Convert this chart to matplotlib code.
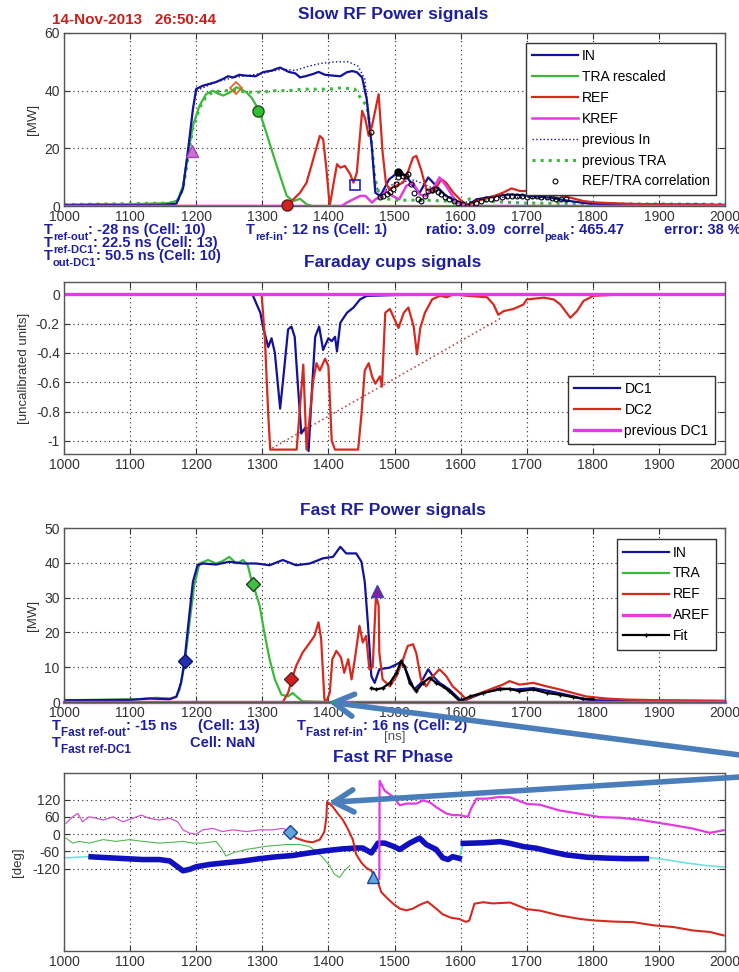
import matplotlib
matplotlib.use("Agg")
import matplotlib.pyplot as plt
import numpy as np

plt.rcParams['font.family'] = ['Liberation Sans', 'DejaVu Sans']
plt.rcParams['axes.unicode_minus'] = False

# ---------------- data: Slow RF Power signals ----------------
slow_in_t = [1000, 1050, 1100, 1150, 1170, 1180, 1188, 1195, 1200, 1210, 1230, 1240, 1248, 1256, 1265, 1276,
             1290, 1301, 1315, 1320, 1327, 1340, 1350, 1357, 1365, 1377, 1385, 1395, 1408, 1418, 1428, 1436,
             1443, 1451, 1458, 1466, 1471, 1478, 1482, 1492, 1505, 1518, 1528, 1538, 1551, 1563, 1578, 1594,
             1609, 1624, 1654, 1675, 1705, 1735, 1766, 1796, 1850, 1900, 1950, 2000]
slow_in_v = [0.3, 0.4, 0.3, 0.4, 0.8, 6, 20, 33.6, 40.6, 41.7, 43, 44, 45, 44.6, 45.5, 45.2,
             45, 46.4, 47, 47.5, 48, 46.5, 46, 44.6, 45, 45.8, 46.5, 45.5, 45.2, 45, 46.4, 46.8,
             46.4, 44.6, 37, 19.7, 4.6, 3.5, 5, 9.3, 11.6, 10.4, 7, 4.6, 9.9, 7, 3.5, 1.7,
             0, 2.3, 3.5, 4, 3.5, 2.9, 1.7, 0.8, 0.6, 0.5, 0.5, 0.4]

slow_prev_in_t = [1000, 1170, 1180, 1188, 1195, 1200, 1230, 1256, 1300, 1330, 1350, 1370, 1390, 1410, 1430,
                  1445, 1455, 1463, 1470, 1478, 1500, 1530, 1560, 1600, 1650, 1700, 1800, 2000]
slow_prev_in_v = [0.3, 0.8, 6, 20, 33, 40, 43, 44.5, 46, 47.5, 47, 48.5, 49.5, 50, 50,
                  48.5, 44, 28, 8, 4, 8, 9, 6, 1, 3, 3, 0.8, 0.4]

slow_tra_t = [1000, 1100, 1160, 1172, 1180, 1188, 1195, 1205, 1215, 1225, 1233, 1241, 1251, 1261, 1268,
              1276, 1284, 1291, 1296, 1306, 1317, 1327, 1337, 1347, 1357, 1367, 1375, 1400, 1500, 2000]
slow_tra_v = [0.5, 0.6, 1, 2, 7, 18.6, 27.8, 34.8, 38.8, 40, 39, 38.3, 39.4, 41.2, 40.5,
              39.4, 37.5, 34.8, 32.5, 25.5, 17.4, 10.4, 3.5, 1.7, 2.5, 0.6, 0, 0, 0, 0]

slow_prev_tra_t = [1000, 1160, 1172, 1180, 1188, 1195, 1205, 1215, 1225, 1240, 1260, 1280, 1300, 1320, 1340,
                   1360, 1380, 1400, 1420, 1440, 1450, 1458, 1463, 1470, 1478, 1500, 1550, 1600, 1615, 1630,
                   1650, 1700, 1800, 2000]
slow_prev_tra_v = [0.5, 1, 2, 6, 17, 27, 34, 38, 39.5, 40, 40, 39.5, 39.5, 40, 40,
                   40.5, 40.5, 40.5, 41, 40.5, 37, 34.8, 28, 10, 3, 2, 2, 1.5, 2.5, 2,
                   1.5, 1, 0.8, 0.6]

slow_ref_t = [1000, 1330, 1337, 1347, 1357, 1367, 1377, 1387, 1392, 1397, 1402, 1408, 1413, 1418, 1425,
              1433, 1438, 1443, 1451, 1456, 1461, 1466, 1476, 1482, 1487, 1492, 1502, 1513, 1520, 1528,
              1533, 1540, 1548, 1558, 1571, 1578, 1589, 1599, 1609, 1624, 1644, 1664, 1677, 1690, 1705,
              1725, 1745, 1766, 1786, 1806, 1850, 1900, 2000]
slow_ref_v = [0, 0, 0.2, 2.3, 4.6, 8.1, 16.2, 24.3, 23.2, 12.8, 0, 8.1, 14.5, 13.3, 13.9,
              11, 8.1, 11.6, 33, 30, 24.3, 27.8, 38.8, 18.6, 8.1, 5.8, 7, 8.1, 11.6, 16.8,
              17.4, 12.8, 5.8, 4.6, 9.3, 8.1, 4.6, 2.3, 0, 1.7, 2.9, 4.6, 6.1, 5.2, 5.2,
              4, 4, 2.9, 1.7, 1.2, 0.8, 0.5, 0.3]

slow_kref_t = [1000, 1420, 1428, 1448, 1456, 1466, 1472, 1478, 1487, 1497, 1507, 1518, 1528, 1538, 1548,
               1561, 1568, 1578, 1594, 1609, 2000]
slow_kref_v = [0, 0, 1.2, 3.5, 3.5, 1.2, 2.5, 2.9, 5.2, 3.5, 2.3, 7, 8.1, 4, 3.5,
               7, 9.9, 7, 1.2, 0, 0]

corr_t = [1465, 1478, 1483, 1488, 1493, 1498, 1502, 1505, 1509, 1513, 1517, 1520, 1525, 1530, 1535, 1540,
          1546, 1551, 1556, 1561, 1566, 1571, 1577, 1583, 1590, 1596, 1603, 1609, 1616, 1624, 1631, 1639,
          1646, 1654, 1662, 1670, 1678, 1685, 1693, 1700, 1708, 1715, 1722, 1730, 1738, 1745, 1752, 1760]
corr_v = [25.5, 3, 3.5, 4, 5, 6, 7.5, 10, 11.5, 10.4, 10.5, 11, 7.5, 4.5, 2.3, 1.7,
          3.5, 5.2, 5.5, 5.8, 4.8, 4, 3, 2.3, 1.8, 1.2, 0.6, 0, 0.8, 1.2, 1.8, 2.3,
          2.6, 2.9, 3.2, 3.5, 3.6, 3.5, 3.3, 3.2, 3.3, 3.4, 3.1, 3, 2.9, 2.6, 2.5, 2.3]
corr_peak = (1506, 11.9)

slow_marks = {'tri': (1193, 19.1), 'dia': (1260, 40.8), 'circ_g': (1294, 33), 'circ_r': (1337, 0.3), 'sq': (1440, 7.2)}

# ---------------- data: Faraday cups ----------------
dc1_t = [1000, 1285, 1297, 1301, 1309, 1314, 1319, 1327, 1332, 1339, 1344, 1349, 1354, 1359, 1365, 1370,
         1375, 1380, 1386, 1392, 1400, 1405, 1410, 1413, 1418, 1428, 1438, 1448, 1458, 1500, 1600, 2000]
dc1_v = [0, 0, -0.126, -0.22, -0.36, -0.30, -0.40, -0.78, -0.56, -0.24, -0.22, -0.29, -0.63, -0.95, -0.91, -1.07,
         -0.66, -0.29, -0.22, -0.38, -0.30, -0.32, -0.29, -0.39, -0.195, -0.126, -0.09, -0.034, -0.011, -0.005, 0, 0]

dc2_t = [1000, 1299, 1304, 1309, 1312, 1352, 1357, 1362, 1367, 1372, 1377, 1382, 1387, 1395, 1400, 1405,
         1410, 1445, 1450, 1455, 1461, 1466, 1471, 1478, 1481, 1486, 1493, 1498, 1506, 1514, 1521, 1529,
         1534, 1539, 1546, 1557, 1569, 1579, 1589, 1610, 1640, 1650, 1657, 1665, 1680, 1695, 1700, 1726,
         1741, 1751, 1766, 1776, 1786, 1801, 1850, 2000]
dc2_v = [0, 0, -0.31, -0.82, -1.06, -1.06, -0.77, -0.48, -1.06, -0.82, -0.59, -0.47, -0.52, -0.44, -0.49, -1.0,
         -1.06, -1.06, -0.82, -0.52, -0.47, -0.56, -0.61, -0.56, -0.63, -0.126, -0.10, -0.15, -0.23, -0.126, -0.09, -0.22,
         -0.41, -0.23, -0.126, -0.034, -0.01, -0.02, 0, -0.01, -0.02, -0.07, -0.14, -0.115, -0.10, -0.07, -0.035, -0.023,
         -0.035, -0.07, -0.16, -0.115, -0.045, -0.01, 0, 0]

dc2_prev_t = [1315, 1662]
dc2_prev_v = [-1.05, -0.16]

prev_dc1_t = [1000, 2000]
prev_dc1_v = [0, 0]

# ---------------- data: Fast RF Power signals ----------------
fast_in_t = [1000, 1100, 1130, 1160, 1170, 1177, 1182, 1190, 1195, 1202, 1210, 1230, 1250, 1271, 1291, 1311,
             1331, 1351, 1372, 1392, 1407, 1418, 1427, 1442, 1450, 1455, 1460, 1465, 1470, 1477, 1493, 1508,
             1515, 1523, 1530, 1540, 1551, 1558, 1568, 1583, 1599, 1609, 1634, 1659, 1684, 1710, 1735, 1760,
             1780, 1795, 1850, 2000]
fast_in_v = [0.5, 0.6, 1, 0.8, 1.5, 5.5, 11.3, 25.8, 34.5, 39.3, 39.8, 39.5, 40.3, 39.8, 39.8, 39.3,
             40.8, 39.3, 39.8, 41.3, 41.7, 44.6, 42.7, 42.7, 40.3, 34.5, 21.9, 7.4, 5.5, 9.4, 9.9, 11.3,
             10.3, 6.5, 3.6, 5.5, 9.4, 7.4, 5.5, 3.6, 0.7, 0.7, 2.6, 3.9, 3.6, 4, 3.1, 2.1,
             1.2, 0.5, 0.4, 0.3]

fast_tra_t = [1000, 1110, 1140, 1160, 1170, 1175, 1182, 1190, 1197, 1205, 1218, 1230, 1240, 1250, 1261,
              1271, 1278, 1283, 1288, 1296, 1303, 1311, 1319, 1329, 1339, 1346, 1354, 1361, 1400, 2000]
fast_tra_v = [0.5, 0.8, 1.2, 1, 1.5, 3.6, 10.3, 22.9, 33.5, 39.8, 40.8, 39.8, 40.5, 41.7, 39.8,
              40.8, 39.3, 35.5, 32.6, 27.7, 20, 12.3, 6.5, 2.1, 1.6, 2.6, 1.2, 0.2, 0, 0]

fast_ref_t = [1000, 1331, 1339, 1344, 1351, 1361, 1372, 1379, 1385, 1389, 1394, 1397, 1402, 1406, 1412,
              1419, 1424, 1430, 1435, 1440, 1447, 1452, 1457, 1462, 1467, 1472, 1476, 1477, 1482, 1493,
              1503, 1513, 1520, 1528, 1533, 1540, 1548, 1558, 1568, 1578, 1588, 1599, 1609, 1624, 1644,
              1664, 1674, 1689, 1710, 1730, 1750, 1770, 1790, 1820, 1850, 1900, 2000]
fast_ref_v = [0, 0, 2.6, 6, 10.3, 14.2, 17.1, 19, 22.9, 18.1, 0.7, 0.2, 2.6, 12.3, 14.7,
              12.8, 8.4, 12.3, 6.5, 12.3, 21.9, 17.1, 19, 9.4, 10, 30.6, 27.7, 14.2, 6.5, 4.5,
              7.4, 12.3, 16.1, 16.6, 14, 6.5, 4.5, 7.4, 9.4, 7.5, 4.5, 2.6, 0.7, 2.1, 3.6,
              5, 6, 5, 5.5, 4.5, 3.6, 2.6, 1.6, 1.0, 0.7, 0.5, 0.3]

fit_t = [1465, 1472, 1482, 1493, 1503, 1510, 1515, 1523, 1533, 1543, 1553, 1563, 1573, 1583, 1599, 1614,
         1634, 1659, 1674, 1689, 1710, 1730, 1750, 1770, 1785, 1800]
fit_v = [4, 3.6, 4, 5.5, 8.4, 11.8, 10.3, 5.5, 3.1, 5.5, 7, 5.5, 4.5, 3.1, 0.2, 1.6,
         2.6, 3.6, 3.8, 3.1, 3.6, 2.6, 2.1, 1.4, 0.9, 0.8]

aref_t = [1000, 2000]
aref_v = [0, 0]

fast_marks = {'in': (1183, 11.8), 'tra': (1286, 34), 'ref': (1344, 6.5), 'tri': (1474, 32)}

# ---------------- data: Fast RF Phase ----------------
ph_mag1_t = [1003, 1013, 1021, 1028, 1038, 1049, 1059, 1074, 1089, 1104, 1117, 1129, 1144, 1160, 1172,
             1180, 1190, 1200, 1210, 1225, 1240, 1255, 1276, 1296, 1316, 1331, 1341]
ph_mag1_v = [37.6, 60, 72, 43, 60, 55, 49, 60, 43, 55, 66, 55, 49, 55, 43,
             15, 3.4, 0, 15, 20, 9, 15, 9, 15, 15, 20, 9]

ph_mag2_t = [1477, 1477.5, 1485, 1498, 1508, 1518, 1533, 1543, 1553, 1563, 1578, 1588, 1598, 1611, 1616,
             1624, 1639, 1659, 1675, 1700, 1720, 1750, 1781, 1811, 1841, 1871, 1892, 1922, 1952, 1977, 1998]
ph_mag2_v = [-156, 185, 151, 129, 100, 106, 106, 117, 111, 94, 72, 66, 66, 60, 89,
             123, 123, 129, 127.5, 105, 102, 82, 70.6, 59, 57, 50, 42, 31, 19, 4.6, 13.7]

ph_red_t = [1341, 1351, 1366, 1376, 1387, 1394, 1397, 1398, 1402, 1407, 1414, 1422, 1429, 1437, 1442,
            1450, 1457, 1465, 1470, 1475, 1480, 1490, 1498, 1508, 1518, 1528, 1538, 1550, 1563, 1573,
            1586, 1598, 1608, 1613, 1621, 1634, 1649, 1675, 1700, 1720, 1750, 1781, 1801, 1831, 1861,
            1892, 1922, 1952, 1977, 1998]
ph_red_v = [9, -13.7, -25, -28, -19, 9, 60, 111.5, 106, 94, 72, 49, 20, -19, -70,
            -99, -116, -127, -145, -167, -201, -224, -241, -258, -264, -258, -245, -234, -258, -278,
            -290, -294, -304, -300, -241, -236, -240, -237, -260, -265, -282, -294, -299, -303, -305,
            -316, -322, -334, -339, -351]

ph_green_t = [1003, 1013, 1023, 1038, 1059, 1079, 1099, 1119, 1144, 1165, 1180, 1195, 1210, 1230, 1238,
              1245, 1255, 1276, 1306, 1336, 1356, 1371, 1381, 1392, 1402, 1409, 1417, 1424, 1432]
ph_green_v = [-13.7, -31, -25, -31, -19, -25, -19, -25, -31, -28, -25, -31, -31, -25, -48,
              -76, -65, -53, -42, -36, -36, -42, -59, -82, -110, -139, -150, -127, -110]

ph_blue1_t = [1041, 1069, 1094, 1119, 1144, 1160, 1170, 1180, 1190, 1200, 1220, 1245, 1271, 1296, 1321,
              1346, 1371, 1397, 1422, 1442, 1452, 1465, 1475, 1485, 1498, 1508, 1523, 1538, 1548, 1563,
              1573, 1581, 1588, 1598]
ph_blue1_v = [-78.5, -82, -85, -88, -88, -93, -110, -127, -122, -113, -105, -99, -93, -85, -78.5,
              -74, -65, -57, -51, -48, -48, -65, -31, -31, -42, -53, -31, -13.7, -36, -53,
              -82, -88, -78, -84]
ph_blue2_t = [1604, 1634, 1660, 1675, 1695, 1715, 1735, 1760, 1791, 1821, 1851, 1881]
ph_blue2_v = [-32, -30, -26, -32, -43, -49, -60, -72, -80, -83, -85, -85]

ph_cyan_parts = [([1003, 1038], [-82, -78]),
                 ([1598, 1604], [-84, -32]),
                 ([1881, 1912, 1942, 1972, 1998], [-80, -89, -100, -109, -114])]

ph_marks = {'dia': (1342, 7), 'tri': (1467, -150)}

# ---------------- styling ----------------
C_IN = '#12129a'
C_TRA = '#3cb83c'
C_REF = '#d42a20'
C_MAG = '#e03ce0'
C_TXT = '#1e1ea0'
C_ARROW = '#4a7ebb'
FS = 10.5      # bold info text
SUBFS = 8.5

W, H = 739, 972
fig = plt.figure(figsize=(W / 100, H / 100), dpi=100)


def fx(px):
    return px / W


def fy(py):
    return 1 - py / H


def make_ax(top, bottom):
    ax = fig.add_axes([fx(64), fy(bottom), fx(725) - fx(64), fy(top) - fy(bottom)])
    ax.set_xlim(1000, 2000)
    ax.set_xticks(np.arange(1000, 2001, 100))
    ax.grid(True, linestyle=(0, (1, 3)), color='#222222', linewidth=0.8)
    ax.tick_params(direction='in', top=True, right=True, length=4, labelsize=10,
                   colors='#333333', pad=3)
    for s in ax.spines.values():
        s.set_color('#555555')
        s.set_linewidth(1.0)
    return ax


def tlabel(ax, x, y, sub, rest, subfs=SUBFS):
    t = fig.text(fx(x), fy(y), "T", fontsize=FS, fontweight='bold', color=C_TXT, va='baseline')
    s = ax.annotate(sub, xy=(1, 0), xycoords=t, fontsize=subfs, fontweight='bold', color=C_TXT,
                    va='center', ha='left')
    ax.annotate(rest, xy=(1, 0), xycoords=(s, t), fontsize=FS, fontweight='bold', color=C_TXT,
                va='bottom', ha='left')


def title(txt, y):
    fig.text(fx(393), fy(y), txt, fontsize=12.5, fontweight='bold', color=C_TXT, ha='center', va='center')


def legend(ax, handles, labels, **kw):
    ax.legend(handles, labels, fontsize=10, handlelength=3.3, labelspacing=0.5, borderpad=0.45,
              fancybox=False, edgecolor='#333333', framealpha=1, handletextpad=0.3, **kw)


# ---------- panel 1 ----------
ax1 = make_ax(33, 206)
ax1.set_ylim(0, 60)
ax1.set_yticks([0, 20, 40, 60])
ax1.plot(slow_prev_in_t, slow_prev_in_v, ':', color=C_IN, lw=1.0, label='previous In')
ax1.plot(slow_prev_tra_t, slow_prev_tra_v, ':', color=C_TRA, lw=2.2, label='previous TRA')
ax1.plot(slow_tra_t, slow_tra_v, '-', color=C_TRA, lw=1.6, label='TRA rescaled')
ax1.plot(slow_in_t, slow_in_v, '-', color=C_IN, lw=1.6, label='IN')
ax1.plot(slow_ref_t, slow_ref_v, '-', color=C_REF, lw=1.6, label='REF')
ax1.plot(slow_kref_t, slow_kref_v, '-', color=C_MAG, lw=1.8, label='KREF')
ax1.plot(corr_t, corr_v, 'o', ms=3.5, mfc='none', mec='black', mew=0.8, label='REF/TRA correlation')
ax1.plot(*corr_peak, 'o', ms=5, color='black')
ax1.plot(*slow_marks['tri'], '^', ms=8, mfc='#d070d0', mec='#a040c0')
ax1.plot(*slow_marks['dia'], 'D', ms=6, mfc='none', mec='#e06020', mew=1.2)
ax1.plot(*slow_marks['circ_g'], 'o', ms=8, mfc='#30c030', mec='#205020')
ax1.plot(*slow_marks['circ_r'], 'o', ms=8, mfc='#d02020', mec='#602020', clip_on=False, zorder=5)
ax1.plot(*slow_marks['sq'], 's', ms=7, mfc='none', mec='#2020c0', mew=1.2)
ax1.set_ylabel('[MW]', fontsize=9.5, color='#333333', labelpad=4)
h, l = ax1.get_legend_handles_labels()
order = ['IN', 'TRA rescaled', 'REF', 'KREF', 'previous In', 'previous TRA', 'REF/TRA correlation']
legend(ax1, [h[l.index(k)] for k in order], order, loc='upper right', bbox_to_anchor=(0.997, 0.985))

fig.text(fx(52), fy(20), '14-Nov-2013   26:50:44', fontsize=11, fontweight='bold', color='#c8201c',
         va='center')
title('Slow RF Power signals', 15)

tlabel(ax1, 44, 234, 'ref-out', ': -28 ns (Cell: 10)', subfs=8)
tlabel(ax1, 44, 247, 'ref-DC1', ': 22.5 ns (Cell: 13)', subfs=8)
tlabel(ax1, 44, 260, 'out-DC1', ': 50.5 ns (Cell: 10)', subfs=8)
tlabel(ax1, 246, 234, 'ref-in', ': 12 ns (Cell: 1)', subfs=8)
t = fig.text(fx(426), fy(234), 'ratio: 3.09  correl', fontsize=FS, fontweight='bold', color=C_TXT,
             va='baseline')
s = ax1.annotate('peak', xy=(1, 0), xycoords=t, fontsize=8, fontweight='bold', color=C_TXT, va='center')
ax1.annotate(': 465.47', xy=(1, 0), xycoords=(s, t), fontsize=FS, fontweight='bold', color=C_TXT,
             va='bottom')
fig.text(fx(664), fy(234), 'error: 38 %', fontsize=FS, fontweight='bold', color=C_TXT, va='baseline')

# ---------- panel 2 ----------
title('Faraday cups signals', 263)
ax2 = make_ax(282, 454)
ax2.set_ylim(-1.09, 0.084)
ax2.set_yticks([0, -0.2, -0.4, -0.6, -0.8, -1])
ax2.set_yticklabels(['0', '-0.2', '-0.4', '-0.6', '-0.8', '-1'])
ax2.plot(dc2_prev_t, dc2_prev_v, ':', color='#c05050', lw=1.2)
ax2.plot(dc1_t, dc1_v, '-', color=C_IN, lw=1.6, label='DC1')
ax2.plot(dc2_t, dc2_v, '-', color=C_REF, lw=1.6, label='DC2')
ax2.plot(prev_dc1_t, prev_dc1_v, '-', color=C_MAG, lw=2.4, label='previous DC1')
ax2.set_ylabel('[uncalibrated units]', fontsize=9.5, color='#333333', labelpad=4)
h, l = ax2.get_legend_handles_labels()
legend(ax2, h, l, loc='lower right', bbox_to_anchor=(0.995, 0.015))

# ---------- panel 3 ----------
title('Fast RF Power signals', 511)
ax3 = make_ax(528, 702)
ax3.set_ylim(0, 50)
ax3.set_yticks([0, 10, 20, 30, 40, 50])
ax3.plot(fast_tra_t, fast_tra_v, '-', color=C_TRA, lw=1.6, label='TRA')
ax3.plot(fast_in_t, fast_in_v, '-', color=C_IN, lw=1.6, label='IN')
ax3.plot(fast_ref_t, fast_ref_v, '-', color=C_REF, lw=1.6, label='REF')
ax3.plot(fit_t, fit_v, '-', color='black', lw=1.6, marker='+', ms=3, label='Fit')
ax3.plot(aref_t, aref_v, '-', color=C_MAG, lw=2.4, label='AREF', clip_on=False)
ax3.plot(*fast_marks['in'], 'D', ms=7, mfc='#2030b0', mec='#101060')
ax3.plot(*fast_marks['tra'], 'D', ms=7, mfc='#40c040', mec='#204020')
ax3.plot(*fast_marks['ref'], 'D', ms=7, mfc='#d02020', mec='#602020')
ax3.plot(*fast_marks['tri'], '^', ms=8, mfc='#8020a0', mec='#4040c0')
ax3.set_ylabel('[MW]', fontsize=9.5, color='#333333', labelpad=4)
h, l = ax3.get_legend_handles_labels()
order = ['IN', 'TRA', 'REF', 'AREF', 'Fit']
legend(ax3, [h[l.index(k)] for k in order], order, loc='upper right', bbox_to_anchor=(0.997, 0.975))
ax3.set_xlabel('[ns]', fontsize=9.5, color='#555555', labelpad=8)

tlabel(ax3, 52, 730, 'Fast ref-out', ': -15 ns')
fig.text(fx(198), fy(730), '(Cell: 13)', fontsize=FS, fontweight='bold', color=C_TXT, va='baseline')
tlabel(ax3, 52, 747, 'Fast ref-DC1', '')
fig.text(fx(190), fy(747), 'Cell: NaN', fontsize=FS, fontweight='bold', color=C_TXT, va='baseline')
tlabel(ax3, 297, 730, 'Fast ref-in', ': 16 ns (Cell: 2)')

# ---------- panel 4 ----------
title('Fast RF Phase', 758)
ax4 = make_ax(773, 951)
ax4.set_ylim(-405, 212)
ax4.set_yticks([-120, -60, 0, 60, 120])
ax4.plot(ph_green_t, ph_green_v, '-', color='#50b850', lw=0.8)
ax4.plot(ph_mag1_t, ph_mag1_v, '-', color='#d050d0', lw=0.9)
for ct, cv in ph_cyan_parts:
    ax4.plot(ct, cv, '-', color='#70e0e0', lw=1.2)
ax4.plot(ph_blue1_t, ph_blue1_v, '-', color='#1010c0', lw=4)
ax4.plot(ph_blue2_t, ph_blue2_v, '-', color='#1010c0', lw=4)
ax4.plot(ph_red_t, ph_red_v, '-', color=C_REF, lw=1.5)
ax4.plot(ph_mag2_t, ph_mag2_v, '-', color=C_MAG, lw=1.6)
ax4.plot(*ph_marks['dia'], 'D', ms=7, mfc='#5fa8d8', mec='#2040a0')
ax4.plot(*ph_marks['tri'], '^', ms=8, mfc='#5fa8d8', mec='#2040a0')
ax4.set_ylabel('[deg]', fontsize=9.5, color='#333333', labelpad=6)

# ---------- blue arrows ----------
aprops = dict(arrowstyle='->,head_length=1.4,head_width=0.8', color=C_ARROW, lw=4,
              shrinkA=0, shrinkB=0)
ax3.annotate('', xy=(1400, 0), xycoords='data', xytext=(fx(740), fy(755)), textcoords='figure fraction',
             arrowprops=aprops, annotation_clip=False)
ax4.annotate('', xy=(1400, 110), xycoords='data', xytext=(fx(740), fy(777)), textcoords='figure fraction',
             arrowprops=aprops, annotation_clip=False)

fig.savefig('out.png', dpi=100)
